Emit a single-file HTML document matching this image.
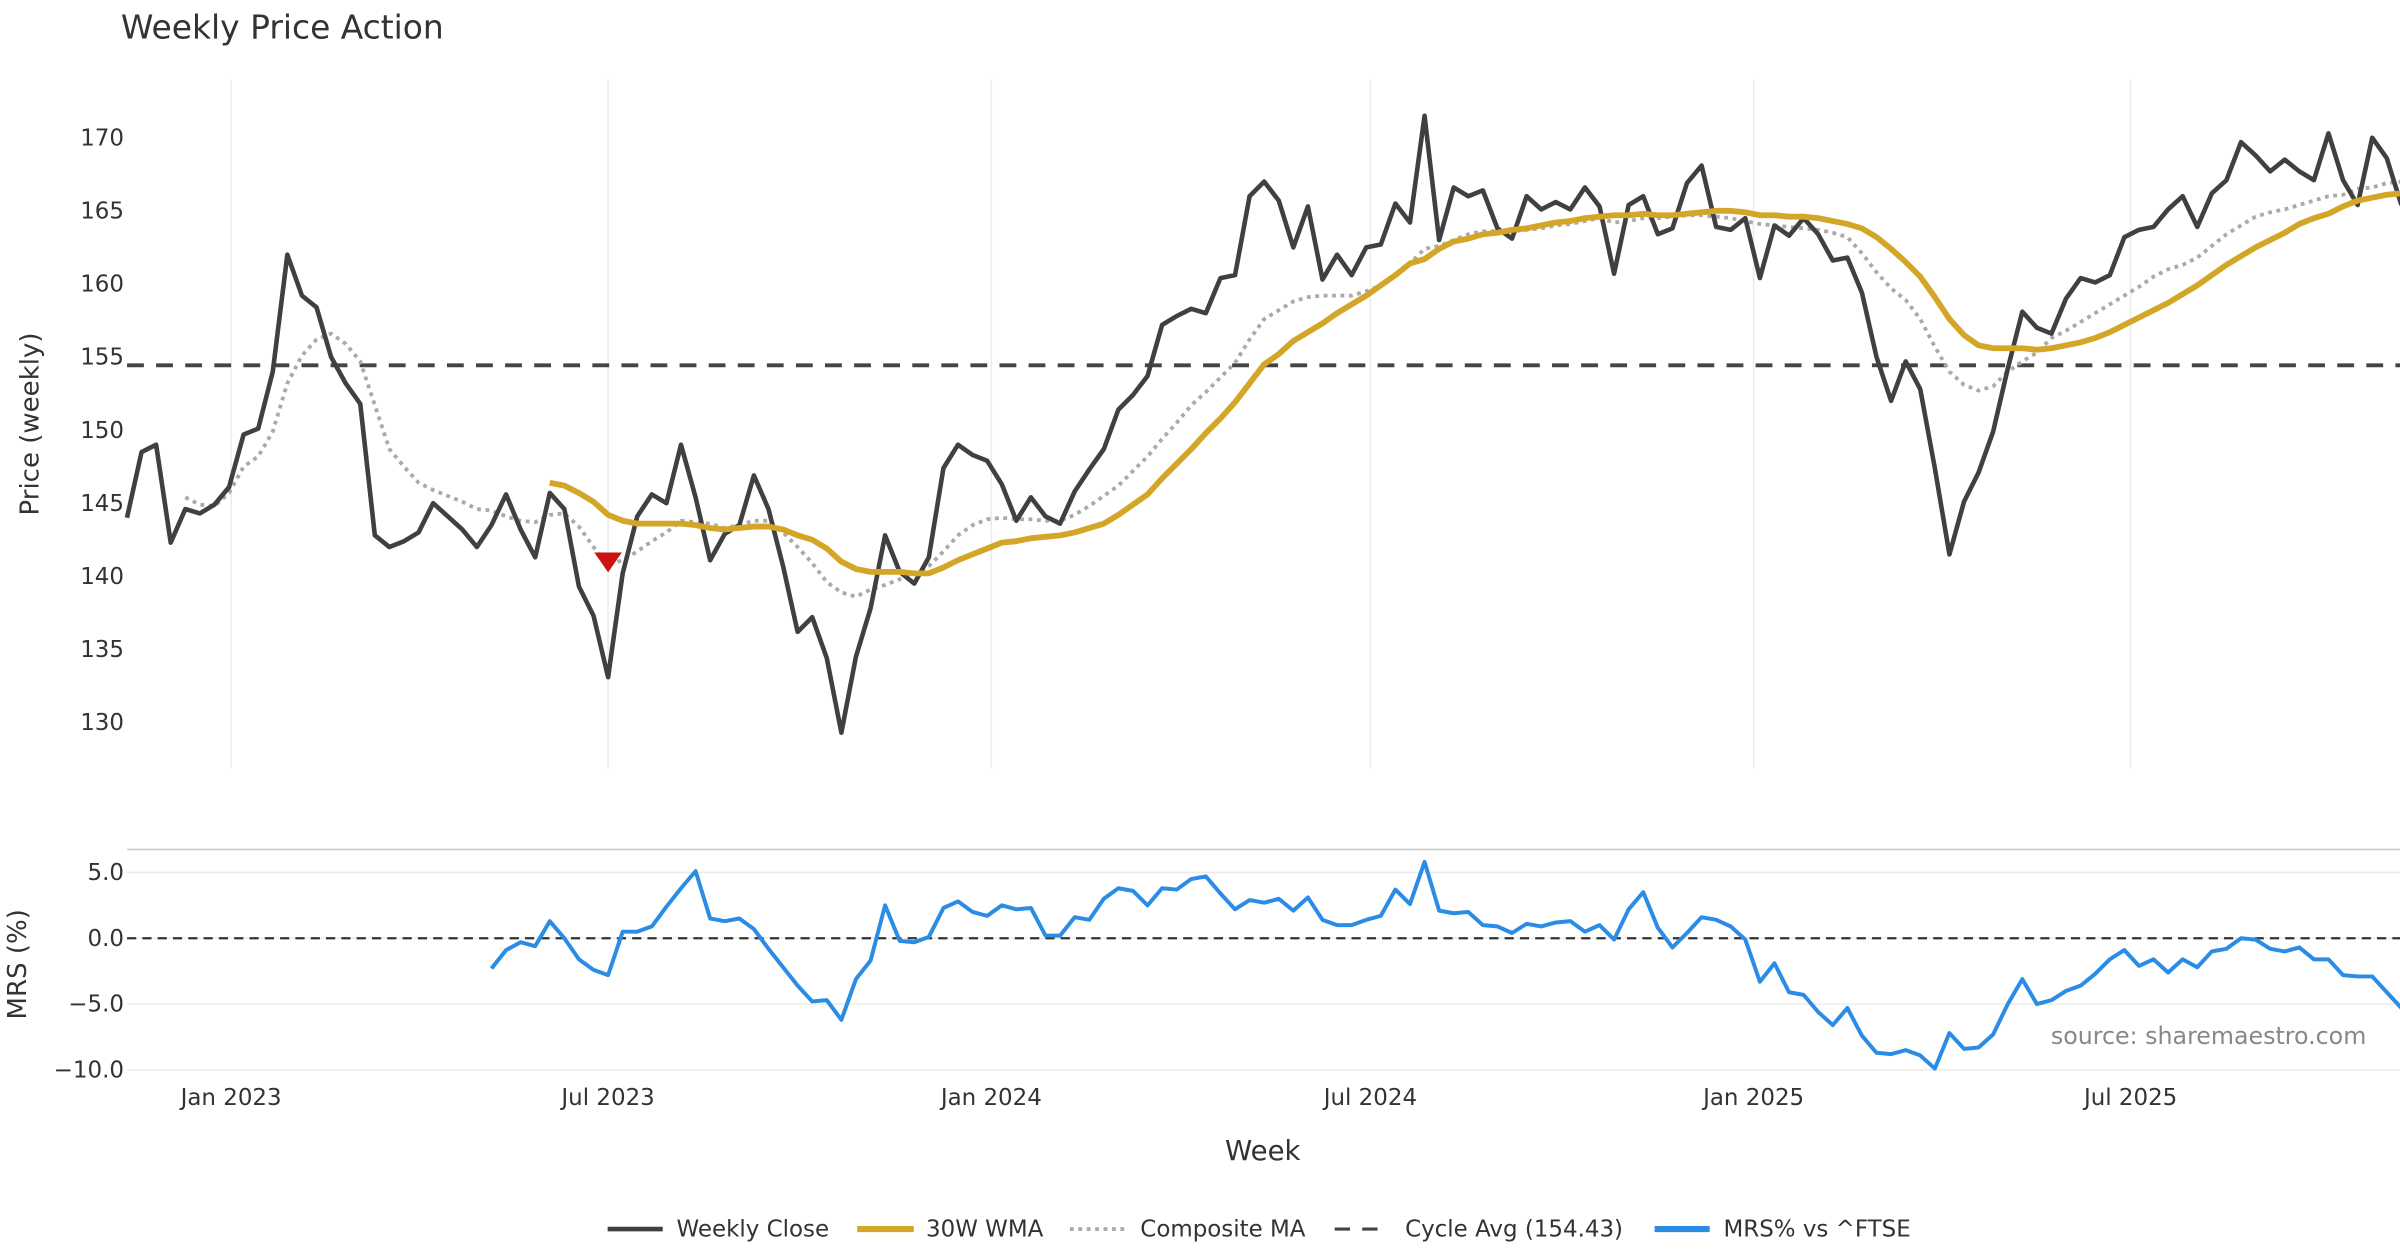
<!DOCTYPE html>
<html><head><meta charset="utf-8"><style>
html,body{margin:0;padding:0;background:#fff;}
svg{display:block;font-family:"DejaVu Sans","Liberation Sans",sans-serif;}
</style></head><body>
<svg id="chart" width="2400" height="1260" viewBox="0 0 1568 823.2" xmlns="http://www.w3.org/2000/svg">
<rect width="1568" height="823.2" fill="#fff"/>
<text x="79" y="25" font-size="21.5" fill="#333">Weekly Price Action</text>
<g id="grid"></g>
<g id="series"></g>
<g id="axes"></g>
<text transform="translate(25,277) rotate(-90)" text-anchor="middle" font-size="17" fill="#333">Price (weekly)</text>
<text transform="translate(17,630) rotate(-90)" text-anchor="middle" font-size="17" fill="#333">MRS (%)</text>
<text x="825" y="758" text-anchor="middle" font-size="18" fill="#333">Week</text>
<text x="1546" y="682" text-anchor="end" font-size="15.5" fill="#888">source: sharemaestro.com</text>
<g font-size="15" fill="#333">
 <g><line x1="397" y1="803" x2="433" y2="803" stroke="#404040" stroke-width="3"/><text x="442" y="808">Weekly Close</text></g>
 <g><line x1="560" y1="803" x2="597" y2="803" stroke="#d4a628" stroke-width="4"/><text x="605" y="808">30W WMA</text></g>
 <g><line x1="699" y1="803" x2="735" y2="803" stroke="#aaa" stroke-width="2.5" stroke-dasharray="2.5 3"/><text x="745" y="808">Composite MA</text></g>
 <g><line x1="872" y1="803" x2="908" y2="803" stroke="#444" stroke-width="2" stroke-dasharray="10 8"/><text x="918" y="808">Cycle Avg (154.43)</text></g>
 <g><line x1="1081" y1="803" x2="1117" y2="803" stroke="#2b8ce6" stroke-width="4"/><text x="1126" y="808">MRS% vs ^FTSE</text></g>
</g>
</svg>
<script>
const closeVals=[144.0,148.5,149.0,142.3,144.6,144.3,144.9,146.1,149.7,150.1,154.0,162.0,159.2,158.4,155.0,153.2,151.8,142.8,142.0,142.4,143.0,145.0,144.1,143.2,142.0,143.5,145.6,143.2,141.3,145.7,144.6,139.3,137.3,133.1,140.2,144.1,145.6,145.0,149.0,145.4,141.1,142.9,143.5,146.9,144.6,140.7,136.2,137.2,134.4,129.3,134.5,137.8,142.8,140.3,139.5,141.3,147.4,149.0,148.3,147.9,146.3,143.8,145.4,144.1,143.6,145.8,147.3,148.7,151.4,152.4,153.7,157.2,157.8,158.3,158.0,160.4,160.6,166.0,167.0,165.7,162.5,165.3,160.3,162.0,160.6,162.5,162.7,165.5,164.2,171.5,163.0,166.6,166.0,166.4,163.8,163.1,166.0,165.1,165.6,165.1,166.6,165.3,160.7,165.4,166.0,163.4,163.8,166.9,168.1,163.9,163.7,164.5,160.4,164.0,163.3,164.5,163.4,161.6,161.8,159.4,155.0,152.0,154.7,152.8,147.4,141.5,145.1,147.1,149.9,154.2,158.1,157.0,156.6,159.0,160.4,160.1,160.6,163.2,163.7,163.9,165.1,166.0,163.9,166.2,167.1,169.7,168.8,167.7,168.5,167.7,167.1,170.3,167.1,165.4,170.0,168.6,165.4];
const wmaVals=[146.4,146.2,145.7,145.1,144.2,143.8,143.6,143.6,143.6,143.6,143.5,143.3,143.2,143.3,143.4,143.4,143.2,142.8,142.5,141.9,141.0,140.5,140.3,140.3,140.3,140.2,140.2,140.6,141.1,141.5,141.9,142.3,142.4,142.6,142.7,142.8,143.0,143.3,143.6,144.2,144.9,145.6,146.7,147.7,148.7,149.8,150.8,151.9,153.2,154.5,155.2,156.1,156.7,157.3,158.0,158.6,159.2,159.9,160.6,161.4,161.7,162.4,162.9,163.1,163.4,163.5,163.7,163.8,164.0,164.2,164.3,164.5,164.6,164.7,164.7,164.8,164.7,164.7,164.8,164.9,165.0,165.0,164.9,164.7,164.7,164.6,164.6,164.5,164.3,164.1,163.8,163.2,162.4,161.5,160.5,159.1,157.6,156.5,155.8,155.6,155.6,155.6,155.5,155.6,155.8,156.0,156.3,156.7,157.2,157.7,158.2,158.7,159.3,159.9,160.6,161.3,161.9,162.5,163.0,163.5,164.1,164.5,164.8,165.3,165.7,165.9,166.1,166.2];
const compVals=[145.4,144.9,144.8,145.7,147.5,148.2,149.9,153.2,155.1,156.2,156.6,155.9,154.7,151.7,148.7,147.5,146.4,145.9,145.5,145.1,144.6,144.5,144.1,143.8,143.7,144.2,144.3,143.4,142.0,140.8,141.1,141.7,142.4,143.0,143.8,143.7,143.6,143.3,143.5,143.8,143.8,143.0,142.0,140.9,139.6,138.9,138.6,139.1,139.4,139.8,140.2,140.7,141.7,142.8,143.5,143.9,144.0,143.9,143.9,143.8,143.8,144.2,144.8,145.5,146.2,147.2,148.2,149.4,150.5,151.7,152.6,153.6,154.6,156.2,157.6,158.2,158.8,159.1,159.2,159.2,159.2,159.5,159.9,160.6,161.4,162.4,162.6,163.0,163.4,163.6,163.6,163.6,163.7,163.8,164.0,164.1,164.3,164.5,164.2,164.3,164.5,164.5,164.6,164.7,164.7,164.6,164.5,164.3,164.1,164.0,163.9,163.8,163.7,163.5,163.2,162.1,160.8,159.7,158.9,157.6,155.7,154.0,153.1,152.7,153.0,154.0,154.7,155.3,156.3,156.8,157.4,158.0,158.6,159.2,159.8,160.5,161.0,161.3,161.8,162.6,163.4,164.0,164.6,164.9,165.1,165.4,165.7,166.0,166.1,166.5,166.6,166.9,167.0];
const mrsVals=[-2.3,-0.9,-0.3,-0.6,1.3,0.0,-1.6,-2.4,-2.8,0.5,0.5,0.9,2.4,3.8,5.1,1.5,1.3,1.5,0.7,-0.8,-2.2,-3.6,-4.8,-4.7,-6.2,-3.1,-1.7,2.5,-0.2,-0.3,0.1,2.3,2.8,2.0,1.7,2.5,2.2,2.3,0.2,0.2,1.6,1.4,3.0,3.8,3.6,2.5,3.8,3.7,4.5,4.7,3.4,2.2,2.9,2.7,3.0,2.1,3.1,1.4,1.0,1.0,1.4,1.7,3.7,2.6,5.8,2.1,1.9,2.0,1.0,0.9,0.4,1.1,0.9,1.2,1.3,0.5,1.0,-0.1,2.2,3.5,0.8,-0.7,0.4,1.6,1.4,0.9,-0.1,-3.3,-1.9,-4.1,-4.3,-5.6,-6.6,-5.3,-7.4,-8.7,-8.8,-8.5,-8.9,-9.9,-7.2,-8.4,-8.3,-7.3,-5.0,-3.1,-5.0,-4.7,-4.0,-3.6,-2.7,-1.6,-0.9,-2.1,-1.6,-2.6,-1.6,-2.2,-1.0,-0.8,0.0,-0.1,-0.8,-1.0,-0.7,-1.6,-1.6,-2.8,-2.9,-2.9,-4.1,-5.3];
const priceTicks=[130,135,140,145,150,155,160,165,170];
const mrsTicks=[5.0,0.0,-5.0,-10.0];
const mrsTickLabels=["5.0","0.0","\u22125.0","\u221210.0"];
const dateTicks=["2023-01-01","2023-07-01","2024-01-01","2024-07-01","2025-01-01","2025-07-01"];
const dateTickLabels=["Jan 2023","Jul 2023","Jan 2024","Jul 2024","Jan 2025","Jul 2025"];
const cycleAvg=154.43;
const signalIndex=33, signalPrice=141.0;
const startDate="2022-11-12";

const NS="http://www.w3.org/2000/svg";
const DAY=86400000, t0=Date.parse("2023-01-01"), k=(1392-151)/((Date.parse("2025-07-01")-t0)/DAY);
function xDate(ms){return 151+(ms-t0)/DAY*k;}
const s0=Date.parse(startDate);
function xIdx(i){return xDate(s0+i*7*DAY);}
function yP(v){return 90+(170-v)*9.55;}
function yM(v){return 613-v*8.6;}
function mk(tag,attrs,parent){const e=document.createElementNS(NS,tag);for(const a in attrs)e.setAttribute(a,attrs[a]);parent.appendChild(e);return e;}
const grid=document.getElementById('grid'),ser=document.getElementById('series'),ax=document.getElementById('axes');
dateTicks.forEach((d,i)=>{const x=xDate(Date.parse(d));
 const g=mk('line',{x1:x,x2:x,y1:52,y2:502,stroke:'#ececec','stroke-width':1},grid);
 
 
 const t=mk('text',{x:x,y:722,'text-anchor':'middle','font-size':15,fill:'#333'},ax);t.textContent=dateTickLabels[i];
 
 
});
priceTicks.forEach(v=>{const t=mk('text',{x:81,y:yP(v)+5,'text-anchor':'end','font-size':15,fill:'#333'},ax);t.textContent=v;
 
 });
const border=mk('line',{x1:83,x2:1568,y1:555,y2:555,stroke:'#cccccc','stroke-width':1.2},grid);


mrsTicks.forEach((v,i)=>{const y=yM(v);
 const g=mk('line',{x1:83,x2:1568,y1:y,y2:y,stroke:'#ececec','stroke-width':1},grid);
 
 
 const t=mk('text',{x:81,y:y+5,'text-anchor':'end','font-size':15,fill:'#333'},ax);t.textContent=mrsTickLabels[i];
 
 });
const cyc=mk('line',{x1:83,x2:1568,y1:yP(cycleAvg),y2:yP(cycleAvg),stroke:'#444','stroke-width':2.5,'stroke-dasharray':'11 8'},ser);


const zl=mk('line',{x1:83,x2:1568,y1:yM(0),y2:yM(0),stroke:'#333','stroke-width':1.5,'stroke-dasharray':'6 4'},ser);


function path(vals,yf,attrs){const off=closeVals.length-vals.length;
 const d=vals.map((v,i)=>(i?'L':'M')+xIdx(i+off).toFixed(2)+','+yf(v).toFixed(2)).join('');
 return mk('path',Object.assign({d:d,fill:'none','stroke-linejoin':'round'},attrs),ser);}
const pc=path(compVals,yP,{stroke:'#aaa','stroke-width':2.5,'stroke-dasharray':'2.5 3'});


const pcl=path(closeVals,yP,{stroke:'#404040','stroke-width':3});


const pw=path(wmaVals,yP,{stroke:'#d4a628','stroke-width':3.8});


const pm=path(mrsVals,yM,{stroke:'#2b8ce6','stroke-width':2.6});


const sx=xIdx(signalIndex),sy=yP(signalPrice);
const tri=mk('path',{d:`M${sx-9},${sy-6}L${sx+9},${sy-6}L${sx},${sy+7}Z`,fill:'#cc1111'},ser);


</script>
</body></html>
